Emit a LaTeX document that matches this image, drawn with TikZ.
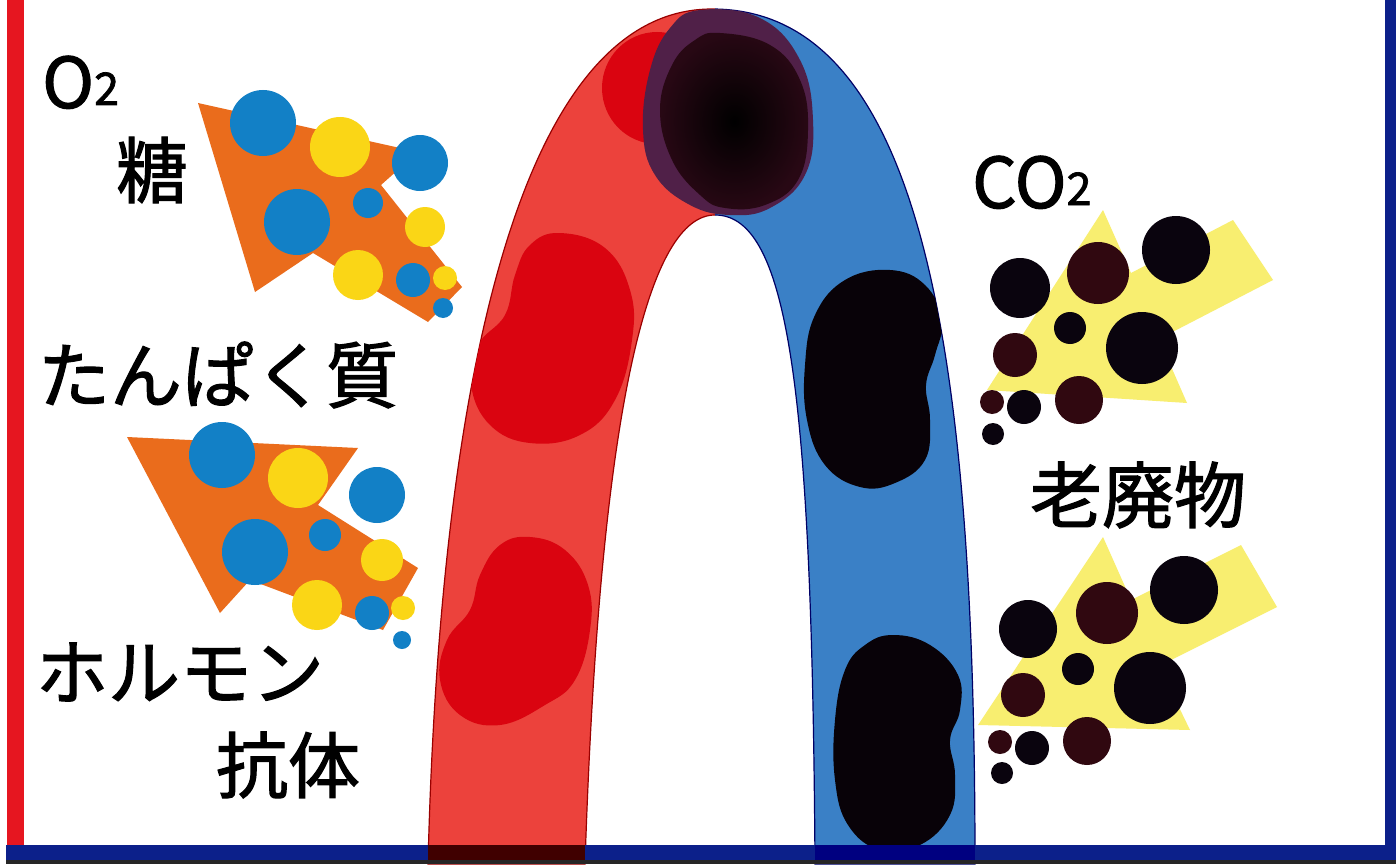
\documentclass[tikz,border=0pt]{standalone}
\usepackage{fontspec}
\newfontfamily\jpfont{Noto Sans CJK JP}[FakeBold=1.6]
\begin{document}
\begin{tikzpicture}[x=1pt,y=-1pt,
  jp/.style={font=\jpfont\fontsize{72}{72}\selectfont, inner sep=0pt},
  chem/.style={font=\jpfont\fontsize{70}{70}\selectfont, inner sep=0pt, anchor=base west},
  bluedot/.style={fill=dotblue},
  yellowdot/.style={fill=dotyellow},
  blackdot/.style={fill=dotblack},
  maroondot/.style={fill=dotmaroon}]
\definecolor{tubered}{RGB}{236,66,60}
\definecolor{tubeblue}{RGB}{58,128,198}
\definecolor{cellred}{RGB}{218,4,16}
\definecolor{cellblack}{RGB}{8,2,8}
\definecolor{cellpurple}{RGB}{80,32,72}
\definecolor{cellmaroon}{RGB}{40,8,20}
\definecolor{arroworange}{RGB}{234,108,28}
\definecolor{arrowyellow}{RGB}{248,238,112}
\definecolor{dotblue}{RGB}{18,128,198}
\definecolor{dotyellow}{RGB}{250,214,22}
\definecolor{dotblack}{RGB}{10,4,14}
\definecolor{dotmaroon}{RGB}{48,8,16}
\definecolor{framered}{RGB}{230,22,32}
\definecolor{framenavy}{RGB}{12,32,138}

% canvas
\path[use as bounding box, fill=white] (0,0) rectangle (1396,864);

% arterial half of the vessel
\begin{scope}
  \clip (0,0) rectangle (715,864);
  \fill[tubered, draw=red!60!black, line width=1.2]
    (428,864) .. controls (440,380) and (520,9) .. (712,9)
    .. controls (925,9) and (975,360) .. (975,864) -- (815,864)
    .. controls (812,400) and (790,215) .. (715,215)
    .. controls (650,215) and (600,400) .. (585,864) -- cycle;
\end{scope}
% venous half of the vessel
\begin{scope}
  \clip (715,0) rectangle (1396,864);
  \fill[tubeblue, draw=blue!40!black, line width=1.2]
    (428,864) .. controls (440,380) and (520,9) .. (712,9)
    .. controls (925,9) and (975,360) .. (975,864) -- (815,864)
    .. controls (812,400) and (790,215) .. (715,215)
    .. controls (650,215) and (600,400) .. (585,864) -- cycle;
\end{scope}

% blood cells, kept inside the vessel
\begin{scope}
  \clip (428,864) .. controls (440,380) and (520,9) .. (712,9)
    .. controls (925,9) and (975,360) .. (975,864) -- (815,864)
    .. controls (812,400) and (790,215) .. (715,215)
    .. controls (650,215) and (600,400) .. (585,864) -- cycle;
  % red cells
  \fill[cellred] plot[smooth cycle, tension=0.7] coordinates {
    (560,233) (605,248) (630,290) (632,340) (615,400) (580,435) (530,443)
    (490,425) (471,385) (478,345) (505,315) (515,275) (530,245)};
  \fill[cellred] plot[smooth cycle, tension=0.7] coordinates {
    (530,537) (565,550) (588,585) (590,630) (575,680) (545,705) (500,725)
    (460,715) (440,680) (447,640) (470,610) (480,575) (500,545)};
  \fill[cellred] (657,88) ellipse [x radius=55, y radius=56];
  % dark cells
  \fill[cellblack] plot[smooth cycle, tension=0.7] coordinates {
    (890,270) (925,285) (942,320) (935,355) (926,385) (930,420) (925,460)
    (895,483) (860,487) (825,465) (807,420) (805,365) (815,315) (845,280)};
  \fill[cellblack] plot[smooth cycle, tension=0.7] coordinates {
    (893,635) (930,645) (958,675) (960,710) (950,740) (955,775) (950,815)
    (920,845) (880,850) (848,825) (835,780) (835,720) (845,670) (865,645)};
  % cell at the top of the loop
  \fill[cellpurple] plot[smooth cycle, tension=0.7] coordinates {
    (700,10) (760,18) (800,60) (813,120) (805,175) (770,208) (730,215)
    (690,205) (655,175) (643,130) (650,70) (670,28)};
  \shade[inner color=black, outer color=cellmaroon] plot[smooth cycle, tension=0.7] coordinates {
    (720,33) (770,45) (800,80) (808,130) (798,180) (765,205) (725,208)
    (700,195) (672,160) (660,110) (672,65) (695,40)};
\end{scope}

% frame
\fill[framered] (7,0) rectangle (24,848);
\fill[framenavy] (1385,0) rectangle (1396,864);
\fill[framenavy] (6,845) rectangle (1396,864);
\fill[red!25!black] (428,845) rectangle (585,864);
\fill[blue!50!black] (815,845) rectangle (975,864);
\fill[black!85] (6,860) rectangle (1396,864);

% supply arrows (artery side)
\fill[arroworange] (198,103) -- (418,152) -- (381,185) -- (462,287)
  -- (428,322) -- (313,253) -- (255,292) -- cycle;
\fill[arroworange] (127,437) -- (358,448) -- (318,505) -- (418,568)
  -- (383,630) -- (250,580) -- (220,613) -- cycle;

\foreach \x/\y/\r/\s in {263/123/33/bluedot, 340/147/30/yellowdot,
    420/163/28/bluedot, 297/222/33/bluedot, 368/203/15/bluedot,
    425/227/20/yellowdot, 358/275/25/yellowdot, 413/280/17/bluedot,
    445/278/12/yellowdot, 443/308/10/bluedot,
    222/455/33/bluedot, 298/478/30/yellowdot, 377/495/28/bluedot,
    255/552/33/bluedot, 325/535/16/bluedot, 382/560/21/yellowdot,
    317/605/25/yellowdot, 372/613/17/bluedot, 403/608/12/yellowdot,
    402/640/9/bluedot}
  \path[\s] (\x,\y) circle [radius=\r];

% removal arrows (vein side)
\fill[arrowyellow] (987,390) -- (1103,210) -- (1131,273) -- (1233,220)
  -- (1273,280) -- (1159,339) -- (1187,403) -- cycle;
\fill[arrowyellow] (978,725) -- (1103,537) -- (1131,600) -- (1241,545)
  -- (1277,607) -- (1159,666) -- (1190,730) -- cycle;

\foreach \x/\y/\r/\s in {1020/288/30/blackdot, 1098/273/31/maroondot,
    1176/250/34/blackdot, 1070/328/16/blackdot, 1142/348/36/blackdot,
    1015/355/22/maroondot, 992/402/12/maroondot, 1024/407/17/blackdot,
    1079/400/24/maroondot, 993/434/11/blackdot,
    1028/629/29/blackdot, 1107/613/31/maroondot, 1184/590/34/blackdot,
    1078/669/16/blackdot, 1150/688/36/blackdot, 1023/695/22/maroondot,
    1000/742/12/maroondot, 1032/748/17/blackdot, 1087/741/24/maroondot,
    1002/773/11/blackdot}
  \path[\s] (\x,\y) circle [radius=\r];

% labels
\node[chem] (o2) at (42,108) {O{\fontsize{45}{45}\selectfont\raisebox{3pt}{2}}};
\node[jp] (sugar) at (152,170) {糖};
\node[jp] (protein) at (218,375) {たんぱく質};
\node[jp] (hormone) at (180,672) {ホルモン};
\node[jp] (antibody) at (288,765) {抗体};
\node[chem] (co2) at (972,208) {CO{\fontsize{45}{45}\selectfont\raisebox{3pt}{2}}};
\node[jp] (waste) at (1138,495) {老廃物};
\end{tikzpicture}
\end{document}
